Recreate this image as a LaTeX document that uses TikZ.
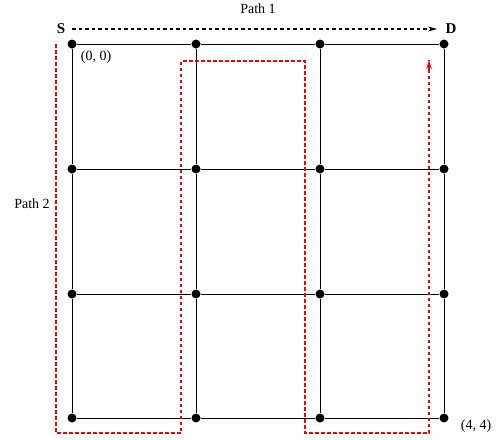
\documentclass[tikz,border=0pt]{standalone}
\usepackage{fontspec}
\setmainfont{Liberation Serif}
\usetikzlibrary{arrows.meta}
\begin{document}
\begin{tikzpicture}[x=1pt,y=-1pt,
  vtx/.style={circle,fill=black,inner sep=0pt,minimum size=9pt},
  gridline/.style={line width=1pt},
  lbl/.style={font=\fontsize{14}{16}\selectfont,inner sep=0pt},
  end/.style={font=\bfseries\fontsize{15}{17}\selectfont,inner sep=0pt},
  path1/.style={dash pattern=on 3.5pt off 3pt,line width=1.2pt,-{Stealth[length=9pt,width=5pt]}},
  path2/.style={red,dash pattern=on 3.5pt off 2.5pt,line width=1.4pt}]
\useasboundingbox (0,0) rectangle (502,439);
% vertices
\foreach \i/\x in {0/72,1/196,2/320,3/444}{
  \foreach \j/\y in {0/44,1/169,2/294,3/418}{
    \node[vtx] (v\i\j) at (\x,\y) {};
  }
}
% grid lines
\foreach \j in {0,1,2,3}{
  \draw[gridline] (v0\j) -- (v1\j) -- (v2\j) -- (v3\j);
}
\foreach \i in {0,1,2,3}{
  \draw[gridline] (v\i0) -- (v\i1) -- (v\i2) -- (v\i3);
}
% labels
\node[end] (S) at (61,29) {S};
\node[end] (D) at (451,29) {D};
\node[lbl] (p1) at (258,9) {Path 1};
\node[lbl] (p2) at (32,204) {Path 2};
\node[lbl] (o) at (96,57) {(0, 0)};
\node[lbl] (f) at (476,426) {(4, 4)};
% path 1
\coordinate (p1s) at (72,29);
\coordinate (p1e) at (437,29);
\draw[path1] (p1s) -- (p1e);
% path 2
\coordinate (a) at (56,44);
\coordinate (b) at (56,433);
\coordinate (c) at (181,433);
\coordinate (d) at (181,61);
\coordinate (e) at (305,61);
\coordinate (g) at (305,433);
\coordinate (h) at (429,433);
\coordinate (k) at (429,60);
\draw[path2] (a) -- (b) -- (c) -- (d) -- (e) -- (g) -- (h) -- (k);
\draw[red,line width=1.4pt,-{Stealth[length=9pt,width=5.5pt]}] (429,70) -- (k);
\end{tikzpicture}
\end{document}
